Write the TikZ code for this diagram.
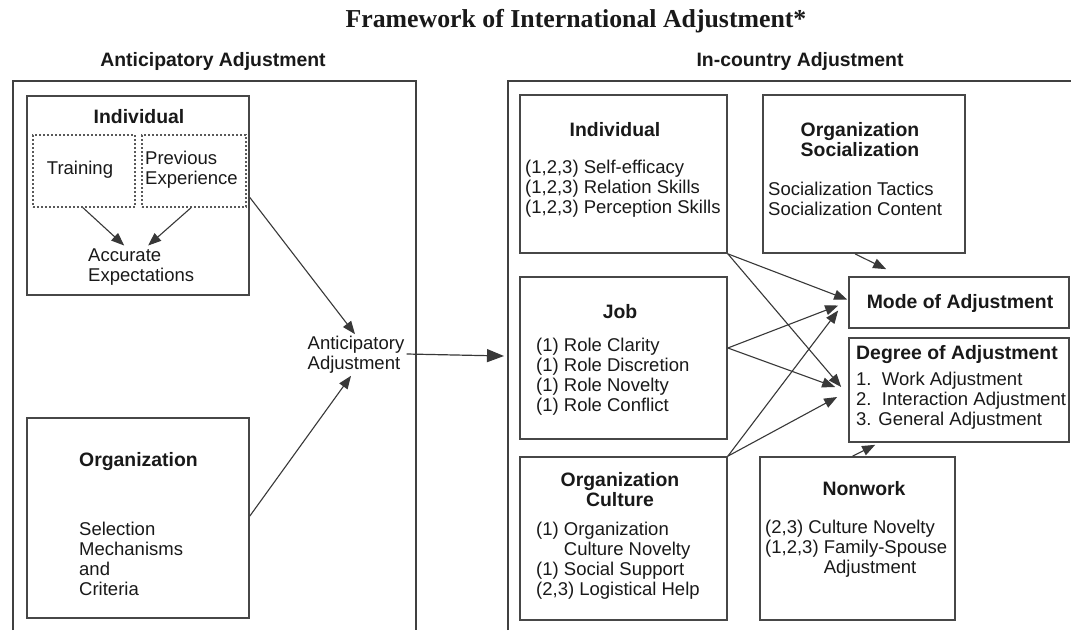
\documentclass[tikz,border=0pt]{standalone}
\usepackage{fontspec}
\setmainfont{Liberation Sans}
\newfontfamily\ttlfont{Liberation Serif}
\usetikzlibrary{arrows.meta,calc}
\newcommand\regf{\fontsize{18.5}{20}\selectfont}
\newcommand\bldf{\fontsize{19.4}{20}\selectfont\bfseries}
\begin{document}
\begin{tikzpicture}[x=1pt,y=-1pt,
  box/.style={draw=black!72, line width=1.7pt, inner sep=0pt},
  dotbox/.style={draw=black!65, line width=1.5pt, dash pattern=on 1.6pt off 2.4pt, inner sep=0pt},
  txt/.style={inner sep=0pt, text=black!90, font=\regf, align=left},
  hd/.style={inner sep=0pt, text=black!90, font=\bldf, align=center},
  frame/.style={draw=black!75, line width=1.4pt},
  arr/.style={draw=black!78, line width=1.1pt, -{Triangle[length=13pt,width=10pt]}},
  bigarr/.style={draw=black!78, line width=1.2pt, -{Triangle[length=17pt,width=13pt]}}]
\useasboundingbox (0,0) rectangle (1071,630);
\fill[white] (0,0) rectangle (1071,630);

% titles
\node[inner sep=0pt, text=black!90, font=\ttlfont\fontsize{25.8}{28}\selectfont\bfseries] (title) at (576,21) {Framework of International Adjustment*};
\node[hd] (hdrA) at (213,61) {Anticipatory Adjustment};
\node[hd] (hdrB) at (800,61) {In-country Adjustment};

% outer frames
\draw[frame] (13,630) -- (13,81) -- (416,81) -- (416,630);
\draw[frame] (508,630) -- (508,81) -- (1071,81);

% left panel
\node[box, minimum width=222pt, minimum height=199pt] (indA) at (138,195.5) {};
\node[hd] (indAt) at (139,117) {Individual};
\node[dotbox, minimum width=102pt, minimum height=72pt] (trainA) at (84,171) {};
\node[dotbox, minimum width=104pt, minimum height=72pt] (prevA) at (194,171) {};
\node[txt] (trainT) at (80,170) {Training};
\node[txt, anchor=west] (prevT) at (145,170) {Previous\\Experience};
\node[txt, anchor=west] (acc) at (88,267) {Accurate\\Expectations};

\node[box, minimum width=222pt, minimum height=200pt] (orgA) at (138,518) {};
\node[hd, anchor=west] (orgAt) at (79,462) {Organization};
\node[txt, anchor=west] (selT) at (79,559) {Selection\\Mechanisms\\and\\Criteria};

\node[txt, inner sep=2pt] (antic) at (356,355) {Anticipatory\\Adjustment};
\coordinate (rin) at (504,356);

% right panel
\node[box, minimum width=207pt, minimum height=158pt] (indB) at (623.5,174) {};
\node[hd] (indBt) at (615,130) {Individual};
\node[txt, anchor=west] (indBl) at (525,189) {(1,2,3) Self-efficacy\\(1,2,3) Relation Skills\\(1,2,3) Perception Skills};

\node[box, minimum width=202pt, minimum height=158pt] (socB) at (864,174) {};
\node[hd] (socBt) at (860,140) {Organization\\Socialization};
\node[txt, anchor=west] (socBl) at (768,199) {Socialization Tactics\\Socialization Content};

\node[box, minimum width=207pt, minimum height=162pt] (jobB) at (623.5,358) {};
\node[hd] (jobBt) at (620,312) {Job};
\node[txt, anchor=west] (jobBl) at (536,377) {(1) Role Clarity\\(1) Role Discretion\\(1) Role Novelty\\(1) Role Conflict};

\node[box, minimum width=207pt, minimum height=163pt] (cultB) at (623.5,538.5) {};
\node[hd] (cultBt) at (620,490) {Organization\\Culture};
\node[txt, anchor=west] (cultBl) at (536,561) {(1) Organization\\\hphantom{(1)}\ Culture Novelty\\(1) Social Support\\(2,3) Logistical Help};

\node[box, minimum width=195pt, minimum height=163pt] (nonB) at (857.5,538.5) {};
\node[hd] (nonBt) at (864,489) {Nonwork};
\node[txt, anchor=west] (nonBl) at (765,549) {(2,3) Culture Novelty\\(1,2,3) Family-Spouse\\\hphantom{(1,2,3)}\ Adjustment};

\node[box, minimum width=220pt, minimum height=51pt] (modeB) at (959,302.5) {};
\node[hd] (modeBt) at (960,303) {Mode of Adjustment};

\node[box, minimum width=220pt, minimum height=104pt] (degB) at (959,390) {};
\node[hd, anchor=west] (degBt) at (856,355) {Degree of Adjustment};
\node[txt, anchor=west] (degBl) at (856,401) {1.\ \ Work Adjustment\\2.\ \ Interaction Adjustment\\3. General Adjustment};

% connectors, left
\draw[arr] ([xshift=-1pt]trainA.south) -- ([xshift=-17pt,yshift=3pt]acc.north);
\draw[arr] ([xshift=-3pt]prevA.south) -- ([xshift=7pt,yshift=3pt]acc.north);
\draw[arr] ([yshift=-2pt]indA.east) -- ([xshift=-1pt]antic.north);
\draw[arr] ([yshift=2pt]orgA.east) -- ([xshift=-5pt]antic.south);
\draw[bigarr] ([yshift=1pt]antic.east) -- (rin);

% connectors, right
\draw[arr] ([xshift=-9pt]socB.south) -- ([xshift=38pt,yshift=7pt]modeB.north west);
\draw[arr] (indB.south east) -- ([xshift=-1pt,yshift=3pt]modeB.west);
\draw[arr] (indB.south east) -- ([xshift=-7pt,yshift=3pt]degB.west);
\draw[arr] ([yshift=10pt]jobB.east) -- ([xshift=-10pt,yshift=-3pt]modeB.west);
\draw[arr] ([yshift=10pt]jobB.east) -- ([xshift=-13pt,yshift=3pt]degB.west);
\draw[arr] (cultB.north east) -- ([xshift=-10pt,yshift=-8pt]modeB.west);
\draw[arr] (cultB.north east) -- ([xshift=-11pt,yshift=-7pt]degB.west);
\draw[arr] ([xshift=-5pt]nonB.north) -- ([xshift=27pt,yshift=-2pt]degB.south west);
\end{tikzpicture}
\end{document}
